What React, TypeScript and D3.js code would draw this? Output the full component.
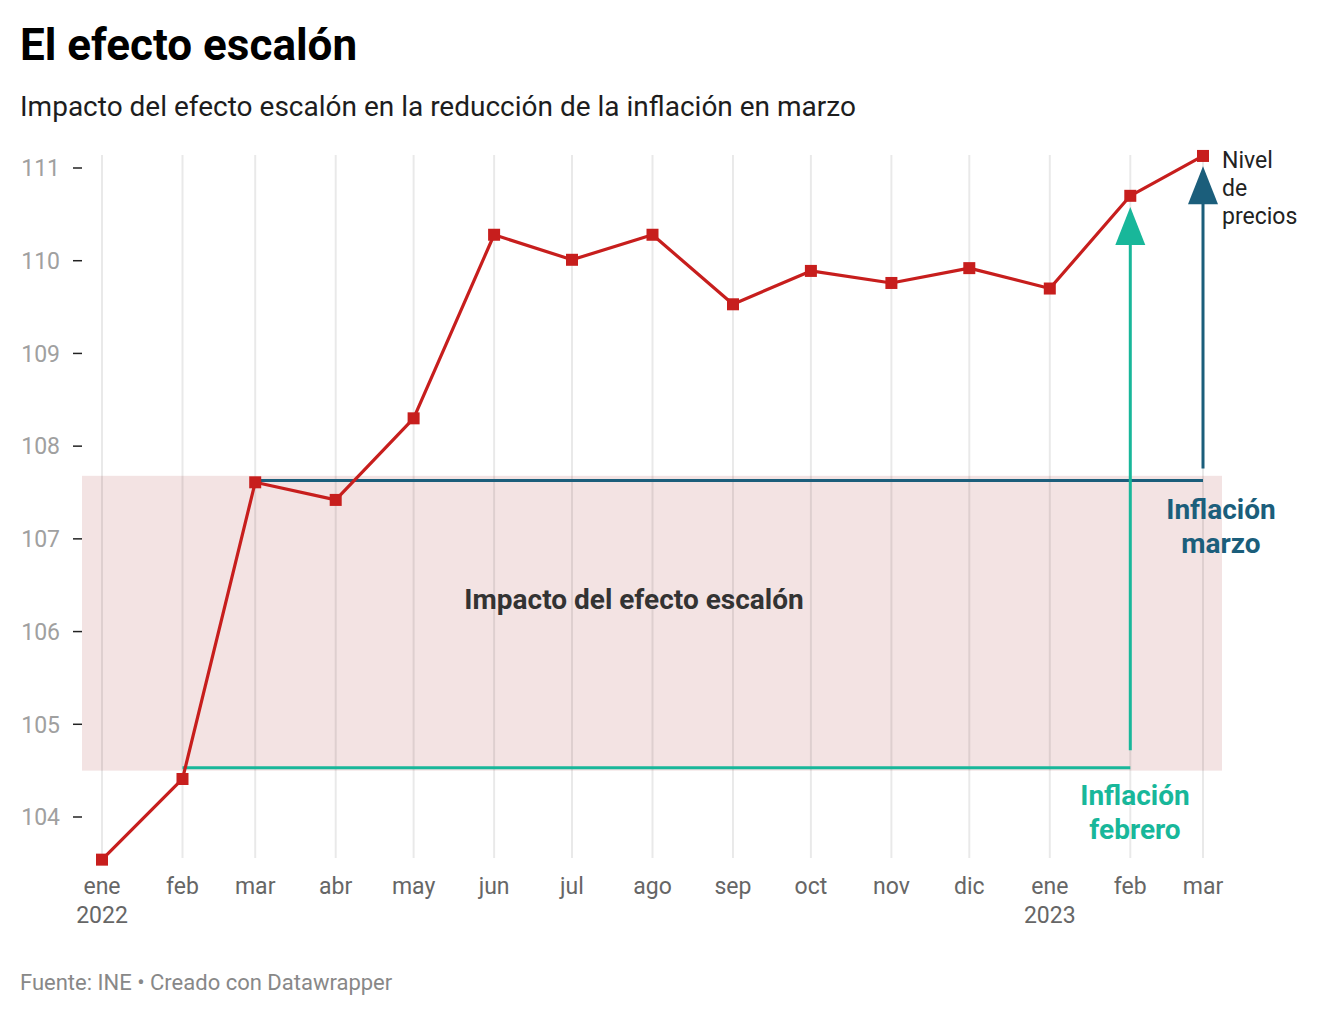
import React, { useEffect, useRef } from "react";
import * as d3 from "d3";

const months = ["2022-01","2022-02","2022-03","2022-04","2022-05","2022-06","2022-07","2022-08","2022-09","2022-10","2022-11","2022-12","2023-01","2023-02","2023-03"];
const monthLabels = ["ene","feb","mar","abr","may","jun","jul","ago","sep","oct","nov","dic","ene","feb","mar"];
const yearLabels: Record<number, string> = { 0: "2022", 12: "2023" };
const priceLevel = [103.54, 104.41, 107.61, 107.42, 108.30, 110.28, 110.01, 110.28, 109.53, 109.89, 109.76, 109.92, 109.70, 110.70, 111.13];
const yTicks = [104, 105, 106, 107, 108, 109, 110, 111];
// annotation values (y-domain units)
const bandRange = [104.5, 107.68];
const marchRefLevel = 107.63;
const febRefLevel = 104.53;
const febArrow = [104.72, 110.58];
const marArrow = [107.76, 111.02];

const W = 1340, H = 1016;
const parse = d3.timeParse("%Y-%m");

export default function App() {
  const ref = useRef<SVGSVGElement>(null);
  useEffect(() => {
    const svg = d3.select(ref.current);
    svg.selectAll("*").remove();
    const dates = months.map((m) => parse(m) as Date);
    const x = d3.scaleTime().domain([dates[0], dates[dates.length - 1]]).range([102, 1203]);
    const y = d3.scaleLinear().domain([104, 111]).range([817, 168]);
    const font = "Roboto, sans-serif";
    const red = "#c71e1d", blue = "#1b5e7b", teal = "#18b79a";

    svg.append("text").attr("x", 20).attr("y", 60).attr("font-family", font).attr("font-weight", 700)
      .attr("font-size", 44).attr("fill", "#000").text("El efecto escalón");
    svg.append("text").attr("x", 20).attr("y", 116).attr("font-family", font)
      .attr("font-size", 28).attr("fill", "#1d1d1d").text("Impacto del efecto escalón en la reducción de la inflación en marzo");

    // shaded area
    svg.append("rect").attr("x", 82).attr("width", 1222 - 82)
      .attr("y", y(bandRange[1])).attr("height", y(bandRange[0]) - y(bandRange[1]))
      .attr("fill", "#f3e3e3");

    // gridlines
    svg.append("g").selectAll("line").data(dates).join("line")
      .attr("x1", (d) => x(d)).attr("x2", (d) => x(d)).attr("y1", 155).attr("y2", 858)
      .attr("stroke", "#000").attr("stroke-opacity", 0.085).attr("stroke-width", 2);

    // y axis
    const ya = svg.append("g");
    yTicks.forEach((t) => {
      ya.append("line").attr("x1", 73).attr("x2", 82).attr("y1", y(t)).attr("y2", y(t)).attr("stroke", "#222").attr("stroke-width", 1.5);
      ya.append("text").attr("x", 60).attr("y", y(t)).attr("dy", "0.36em").attr("text-anchor", "end")
        .attr("font-family", font).attr("font-size", 23).attr("fill", "#a0a0a0").text(String(t));
    });

    // x axis labels
    const xa = svg.append("g");
    dates.forEach((d, i) => {
      xa.append("text").attr("x", x(d)).attr("y", 894).attr("text-anchor", "middle")
        .attr("font-family", font).attr("font-size", 23).attr("fill", "#666").text(monthLabels[i]);
      if (yearLabels[i]) {
        xa.append("text").attr("x", x(d)).attr("y", 923).attr("text-anchor", "middle")
          .attr("font-family", font).attr("font-size", 23).attr("fill", "#666").text(yearLabels[i]);
      }
    });

    // horizontal reference lines
    svg.append("line").attr("x1", x(dates[2])).attr("x2", x(dates[14])).attr("y1", y(marchRefLevel)).attr("y2", y(marchRefLevel))
      .attr("stroke", blue).attr("stroke-width", 3);
    svg.append("line").attr("x1", x(dates[1])).attr("x2", x(dates[13])).attr("y1", y(febRefLevel)).attr("y2", y(febRefLevel))
      .attr("stroke", teal).attr("stroke-width", 3);

    // arrows
    const arrow = (xx: number, y0: number, yTip: number, color: string) => {
      svg.append("line").attr("x1", xx).attr("x2", xx).attr("y1", y0).attr("y2", yTip + 30).attr("stroke", color).attr("stroke-width", 3);
      svg.append("path").attr("d", `M${xx},${yTip} L${xx - 15},${yTip + 38} L${xx + 15},${yTip + 38} Z`).attr("fill", color);
    };
    arrow(x(dates[13]), y(febArrow[0]), y(febArrow[1]), teal);
    arrow(x(dates[14]), y(marArrow[0]), y(marArrow[1]), blue);

    // price line
    const line = d3.line<number>().x((_, i) => x(dates[i])).y((v) => y(v));
    svg.append("path").attr("d", line(priceLevel)).attr("fill", "none").attr("stroke", red).attr("stroke-width", 3.2)
      .attr("stroke-linejoin", "round");
    svg.append("g").selectAll("rect").data(priceLevel).join("rect")
      .attr("x", (_, i) => x(dates[i]) - 6).attr("y", (v) => y(v) - 6).attr("width", 12).attr("height", 12).attr("fill", red);

    // annotations
    const t = (tx: number, ty: number, lines: string[], color: string, weight: number, anchor: string, size: number, lh: number) => {
      const el = svg.append("text").attr("font-family", font).attr("font-size", size).attr("font-weight", weight)
        .attr("fill", color).attr("text-anchor", anchor);
      lines.forEach((l, i) => el.append("tspan").attr("x", tx).attr("y", ty + i * lh).text(l));
    };
    t(634, 609, ["Impacto del efecto escalón"], "#333", 700, "middle", 28, 0);
    t(1221, 519, ["Inflación", "marzo"], blue, 700, "middle", 28, 34);
    t(1135, 805, ["Inflación", "febrero"], teal, 700, "middle", 28, 34);
    t(1222, 168, ["Nivel", "de", "precios"], "#222", 400, "start", 23, 28);

    svg.append("text").attr("x", 20).attr("y", 990).attr("font-family", font).attr("font-size", 22)
      .attr("fill", "#888").text("Fuente: INE • Creado con Datawrapper");
  }, []);
  return (
    <svg ref={ref} width={W} height={H} style={{ position: "absolute", left: 0, top: 0, background: "#fff" }} />
  );
}
